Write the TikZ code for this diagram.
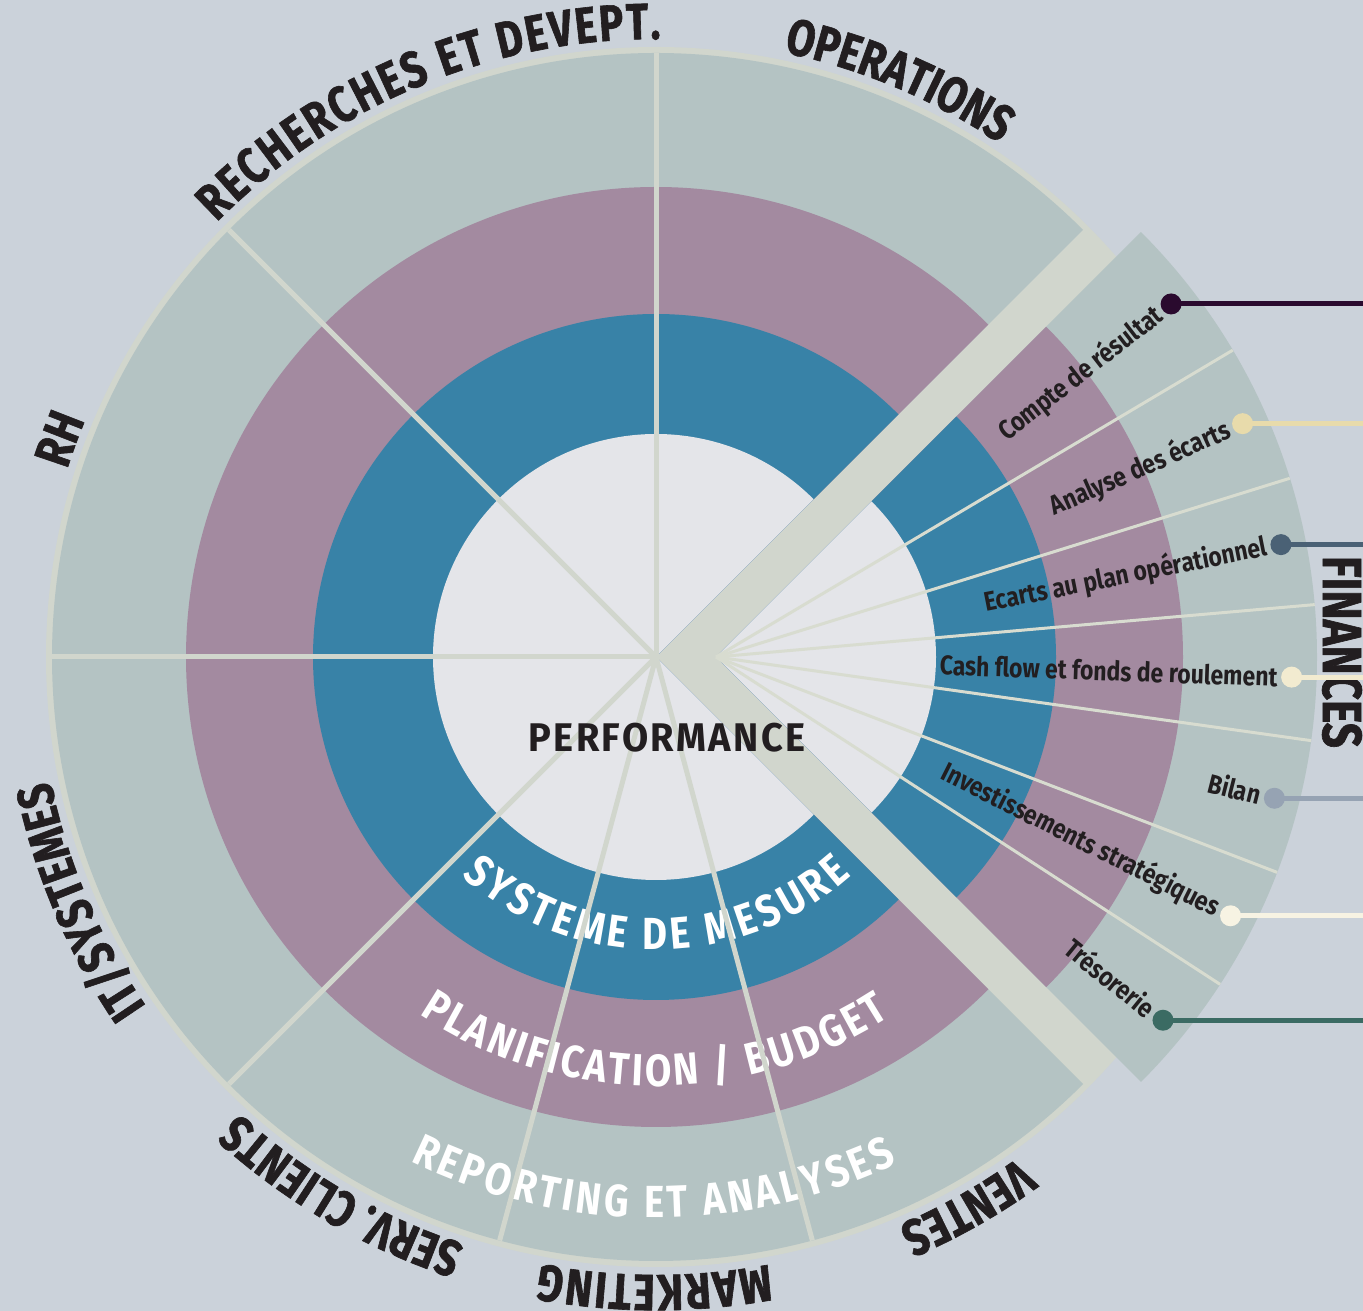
\documentclass[tikz,border=0pt]{standalone}
\usepackage{fontspec}
\setmainfont{Fira Sans}
\newfontfamily\cond[FakeStretch=0.85]{Fira Sans}
\newfontfamily\heavy[FakeStretch=0.8,FakeBold=1.2]{Fira Sans}
\newfontfamily\perffont[FakeStretch=0.95,LetterSpace=6]{Fira Sans}
\usetikzlibrary{decorations.text,calc}
\definecolor{bgc}{HTML}{CBD2DA}
\definecolor{bandc}{HTML}{D1D6CD}
\definecolor{outerc}{HTML}{B4C3C3}
\definecolor{purc}{HTML}{A38AA0}
\definecolor{bluec}{HTML}{3882A7}
\definecolor{innerc}{HTML}{E4E5E9}
\definecolor{finlinec}{HTML}{D8DCD0}
\definecolor{txtc}{HTML}{221E20}
\definecolor{dotA}{HTML}{2A0A2E}
\definecolor{dotB}{HTML}{E8DBAB}
\definecolor{dotC}{HTML}{4A6175}
\definecolor{dotD}{HTML}{F2EBD0}
\definecolor{dotE}{HTML}{96A3B3}
\definecolor{dotF}{HTML}{F7F3E3}
\definecolor{dotG}{HTML}{3B6B63}
\newcommand\olab{\heavy\bfseries\fontsize{51}{51}\selectfont}
\newcommand\wlab{\cond\bfseries\fontsize{45}{45}\selectfont}
\newcommand\finfont{\cond\bfseries\fontsize{27}{27}\selectfont}
\tikzset{
  mainline/.style={draw=bandc,line width=5pt},
  finline/.style={draw=finlinec,line width=3pt},
  finlab/.style={font=\finfont,text=txtc,inner sep=0pt,anchor=east},
  findot/.style={circle,inner sep=0pt,minimum size=21pt},
  outlabel/.style={decorate,decoration={text along path,text={|\olab|#1},text align=center,text color=txtc}},
  outlabelfit/.style={decorate,decoration={text along path,text={|\olab|#1},text align={fit to path},text color=txtc}},
  inlabel/.style={decorate,decoration={text along path,text={|\wlab|#1},text align={fit to path},text color=white}}
}
\begin{document}
\begin{tikzpicture}[x=1pt,y=1pt]
\useasboundingbox (0,0) rectangle (1363,1311);
\fill[bgc] (0,0) rectangle (1363,1311);
\coordinate (C) at (656,654);
\coordinate (A) at (716,654);
\coordinate (R) at (1363,0);
% main disc
\fill[bandc] (C) circle[radius=610];
\begin{scope}[shift={(C)}]
  \foreach \r/\c in {604/outerc,470/purc,343/bluec,223/innerc}{
    \fill[\c] (0,0) -- (45:\r) arc[start angle=45,end angle=315,radius=\r] -- cycle;
  }
\end{scope}
% finance wedge
\begin{scope}[shift={(A)}]
  \foreach \r/\c in {601/outerc,467/purc,340/bluec,220/innerc}{
    \fill[\c] (0,0) -- (-45:\r) arc[start angle=-45,end angle=45,radius=\r] -- cycle;
  }
  \foreach \a in {30.7,17.3,5,-8,-21,-33}{
    \draw[finline] (0,0) -- (\a:601);
  }
\end{scope}
% inner curved labels
\begin{scope}[shift={(C)}]
  \path[inlabel={SYSTEME DE MESURE}] (228.5:293) arc[start angle=228.5,end angle=311.8,radius=293];
  \path[inlabel={PLANIFICATION / BUDGET}] (236.5:429) arc[start angle=236.5,end angle=303,radius=429];
  \path[inlabel={REPORTING ET ANALYSES}] (244:561) arc[start angle=244,end angle=295.5,radius=561];
  % separators
  \foreach \a in {90,135,180,225,255,285}{
    \draw[mainline] (0,0) -- (\a:604);
  }
  % outer labels
  \path[outlabelfit={RECHERCHES ET DEVEPT.}] (135.3:618) arc[start angle=135.3,end angle=89.6,radius=618];
  \path[outlabel={OPERATIONS}] (97.15:618) arc[start angle=97.15,end angle=37.15,radius=618];
  \path[outlabel={RH}] (174.9:618) arc[start angle=174.9,end angle=144.9,radius=618];
  \path[outlabel={IT/SYSTEMES}] (233:618) arc[start angle=233,end angle=173,radius=618];
  \path[outlabel={SERV. CLIENTS}] (269.75:618) arc[start angle=269.75,end angle=209.75,radius=618];
  \path[outlabelfit={MARKETING}] (280.5:618) arc[start angle=280.5,end angle=259.2,radius=618];
  \path[outlabel={VENTES}] (329.5:618) arc[start angle=329.5,end angle=269.5,radius=618];
\end{scope}
% centre
\node[font=\perffont\bfseries\fontsize{40}{40}\selectfont,text=txtc,inner sep=0pt] (perf) at (667,573) {PERFORMANCE};
\node[font=\heavy\bfseries\fontsize{55}{55}\selectfont,text=txtc,inner sep=0pt,rotate=-90] (fin) at (1342,659) {FINANCES};
% finance items
\foreach \a/\t/\c [count=\i] in {37.8/Compte de résultat/dotA,23.9/Analyse des écarts/dotB,11.25/Ecarts au plan opérationnel/dotC,-2/Cash flow et fonds de roulement/dotD,-14.2/Bilan/dotE,-26.7/Investissements stratégiques/dotF,-39.1/Trésorerie/dotG}{
  \node[finlab,rotate=\a] (fl\i) at ($(A)+(\a:562)$) {\t};
  \coordinate (p\i) at ($(A)+(\a:576)$);
  \draw[\c,line width=5pt] (p\i) -- (p\i -| R);
  \node[findot,fill=\c] (d\i) at (p\i) {};
}
\end{tikzpicture}
\end{document}
